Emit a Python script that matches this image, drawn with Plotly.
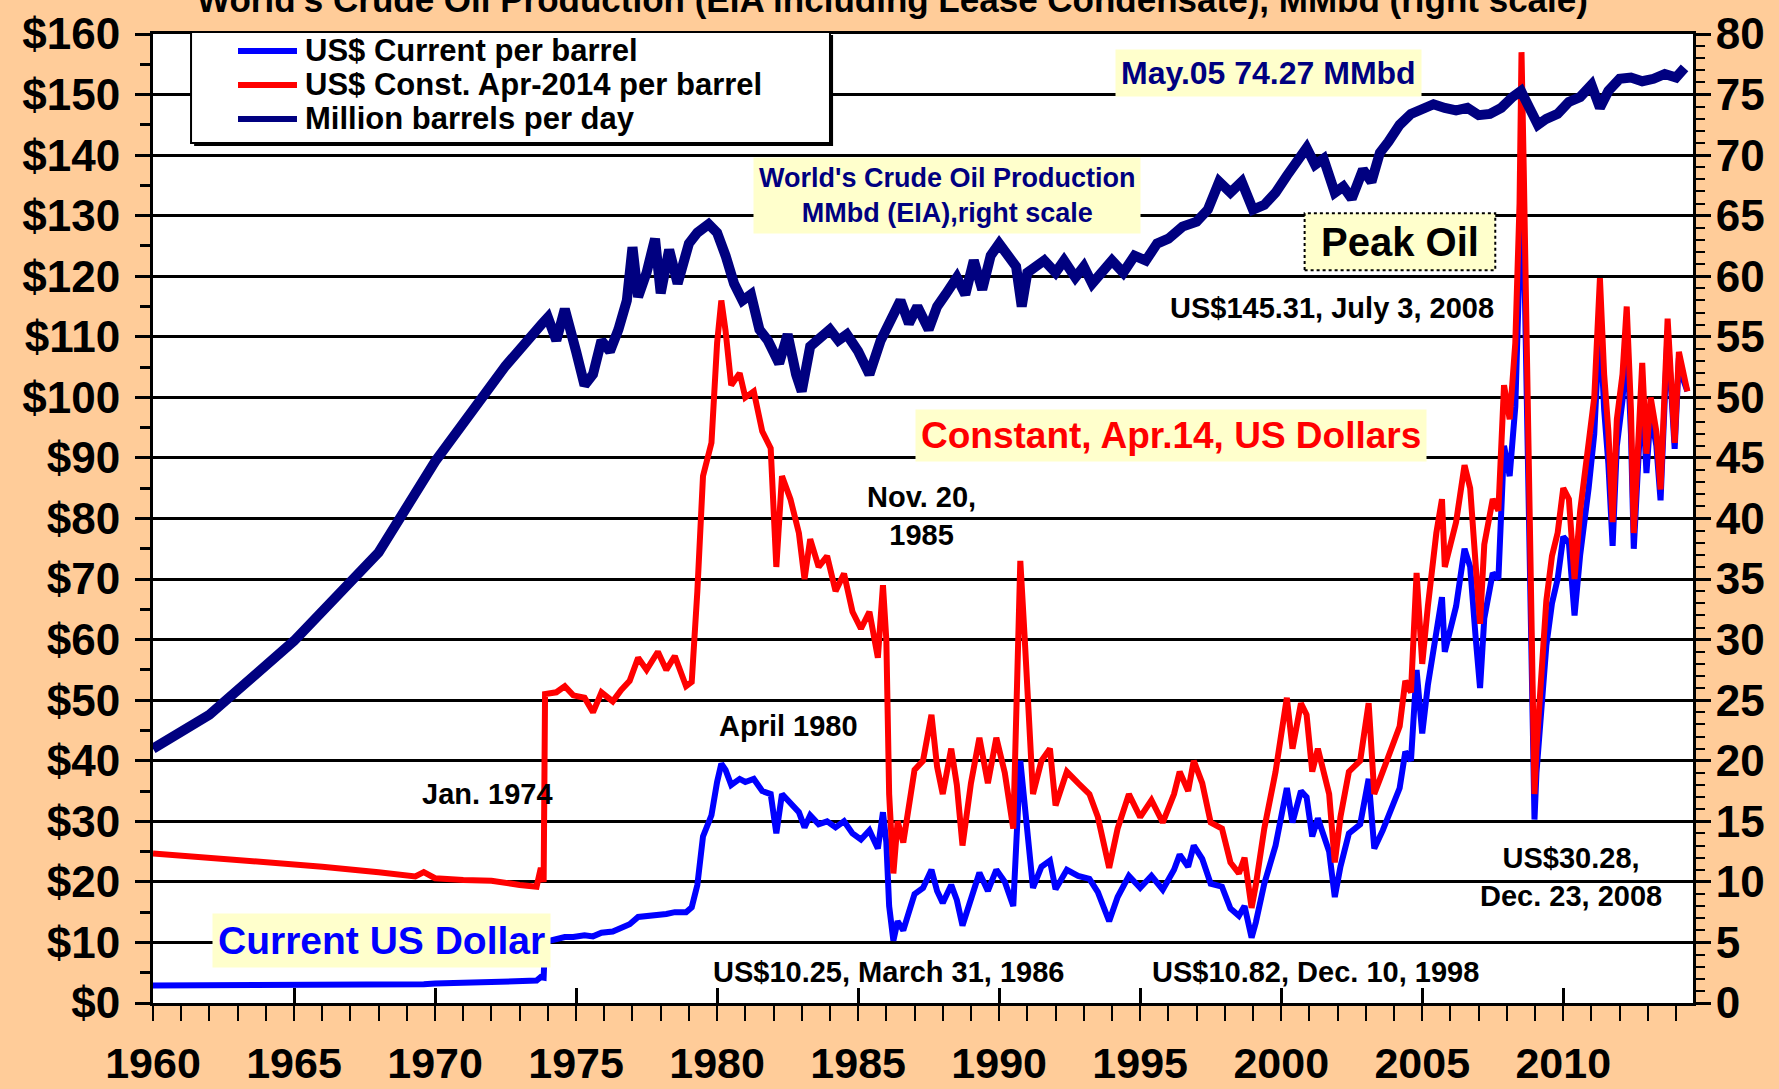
import plotly.graph_objects as go

# Oil price samples (decimal year)
PRICE_YEARS = [
    1960.0, 1962.0, 1964.0, 1966.0, 1968.0, 1969.3, 1969.6, 1970.0, 1971.0, 1972.0,
    1973.0, 1973.6, 1973.75, 1973.85, 1973.9, 1974.3, 1974.6, 1974.9, 1975.3, 1975.6,
    1975.9, 1976.3, 1976.6, 1976.9, 1977.2, 1977.5, 1977.9, 1978.2, 1978.5, 1978.9,
    1979.1, 1979.3, 1979.5, 1979.8, 1980.0, 1980.15, 1980.3, 1980.5, 1980.8, 1981.0,
    1981.3, 1981.6, 1981.9, 1982.1, 1982.3, 1982.6, 1982.9, 1983.1, 1983.3, 1983.6,
    1983.9, 1984.2, 1984.5, 1984.8, 1985.1, 1985.4, 1985.7, 1985.88, 1986.0, 1986.1,
    1986.25, 1986.4, 1986.6, 1986.8, 1987.0, 1987.3, 1987.6, 1987.8, 1988.0, 1988.3,
    1988.5, 1988.7, 1989.0, 1989.3, 1989.6, 1989.9, 1990.2, 1990.5, 1990.75, 1990.9,
    1991.1, 1991.2, 1991.5, 1991.8, 1992.0, 1992.4, 1992.8, 1993.2, 1993.5, 1993.9,
    1994.2, 1994.6, 1995.0, 1995.4, 1995.8, 1996.2, 1996.4, 1996.7, 1996.9, 1997.2,
    1997.5, 1997.9, 1998.2, 1998.5, 1998.7, 1998.95, 1999.1, 1999.4, 1999.8, 2000.0,
    2000.2, 2000.4, 2000.7, 2000.9, 2001.1, 2001.3, 2001.7, 2001.9, 2002.1, 2002.4,
    2002.8, 2003.1, 2003.3, 2003.6, 2003.9, 2004.2, 2004.4, 2004.6, 2004.8, 2005.0,
    2005.2, 2005.5, 2005.7, 2005.8, 2006.0, 2006.2, 2006.5, 2006.7, 2006.9, 2007.05,
    2007.2, 2007.5, 2007.7, 2007.9, 2008.1, 2008.3, 2008.45, 2008.52, 2008.6, 2008.7,
    2008.8, 2008.9, 2008.98, 2009.05, 2009.2, 2009.4, 2009.6, 2009.8, 2010.0, 2010.2,
    2010.4, 2010.6, 2010.9, 2011.1, 2011.3, 2011.45, 2011.6, 2011.75, 2011.9, 2012.1,
    2012.25, 2012.4, 2012.5, 2012.7, 2012.8, 2012.95, 2013.1, 2013.3, 2013.45, 2013.7,
    2013.85, 2013.95, 2014.1, 2014.25, 2014.4,
]
CONST_APR2014_USD = [
    24.7, 24.0, 23.3, 22.5, 21.6, 20.9, 21.6, 20.6, 20.3, 20.2,
    19.5, 19.2, 22.3, 20.0, 51.0, 51.3, 52.3, 50.8, 50.4, 48.0,
    51.3, 49.8, 51.7, 53.2, 57.0, 55.0, 58.0, 55.0, 57.3, 52.3,
    53.0, 68.0, 87.0, 92.5, 109.0, 116.0, 111.0, 102.0, 104.0, 100.0,
    101.0, 94.4, 91.6, 72.0, 87.0, 83.2, 77.6, 70.0, 76.6, 72.0,
    73.8, 68.0, 70.9, 64.6, 61.8, 64.6, 57.0, 69.0, 60.0, 34.5,
    21.4, 30.0, 26.5, 33.0, 38.5, 40.0, 47.6, 39.0, 34.5, 42.0,
    36.0, 26.0, 36.3, 43.8, 36.3, 43.8, 38.0, 28.8, 73.0, 60.7,
    43.8, 34.5, 40.0, 42.0, 32.6, 38.2, 36.3, 34.5, 30.7, 22.3,
    28.8, 34.5, 30.7, 33.5, 29.8, 34.5, 38.2, 35.0, 40.0, 36.3,
    29.8, 28.8, 23.2, 21.4, 24.0, 15.7, 19.5, 28.8, 38.2, 43.8,
    50.4, 42.0, 49.5, 47.6, 38.2, 42.0, 34.5, 23.2, 30.7, 38.2,
    40.0, 49.5, 34.5, 38.2, 42.0, 45.7, 53.2, 51.3, 71.0, 56.0,
    65.5, 77.6, 83.2, 72.0, 75.7, 79.4, 88.8, 85.0, 72.0, 62.6,
    75.7, 83.2, 81.3, 102.0, 96.4, 109.0, 132.0, 157.0, 137.5, 109.0,
    75.7, 53.2, 34.5, 42.0, 53.2, 66.4, 73.8, 77.6, 85.0, 83.2,
    70.0, 81.3, 92.5, 100.0, 119.7, 103.8, 94.4, 79.4, 96.4, 103.8,
    115.0, 98.0, 77.6, 96.4, 105.7, 90.7, 100.0, 94.4, 84.8, 113.0,
    98.0, 92.5, 107.5, 103.8, 101.0,
]
CURRENT_USD = [
    2.9, 2.9, 2.9, 2.9, 2.95, 3.0, 3.1, 3.2, 3.4, 3.5,
    3.6, 3.7, 4.3, 4.2, 10.1, 10.5, 10.9, 10.9, 11.2, 11.0,
    11.6, 11.8, 12.3, 13.0, 14.2, 14.3, 14.6, 14.7, 15.0, 15.0,
    15.8, 19.5, 27.5, 31.0, 36.5, 39.5, 38.5, 36.0, 37.0, 36.5,
    37.0, 35.0, 34.5, 28.0, 34.5, 33.0, 31.5, 29.0, 31.0, 29.5,
    30.0, 29.0, 30.0, 28.0, 27.0, 28.5, 25.5, 31.5, 26.5, 16.0,
    10.3, 13.5, 12.0, 15.0, 18.0, 19.0, 22.0, 18.5, 16.5, 19.5,
    17.0, 12.8, 17.5, 21.5, 18.5, 22.0, 20.0, 16.0, 40.0, 33.0,
    24.5, 19.0, 22.5, 23.5, 18.8, 22.0, 21.0, 20.5, 18.3, 13.5,
    17.5, 21.0, 19.0, 21.0, 18.7, 22.0, 24.5, 22.5, 26.0, 23.8,
    19.7, 19.2, 15.6, 14.4, 16.0, 10.8, 13.3, 19.7, 26.0, 30.5,
    35.5, 29.8, 35.0, 34.0, 27.5, 30.5, 25.0, 17.5, 22.5, 28.0,
    29.5, 37.0, 25.5, 28.5, 32.0, 35.5, 41.5, 40.0, 55.0, 44.5,
    52.5, 62.0, 67.0, 58.0, 62.0, 65.5, 75.0, 72.0, 60.0, 52.0,
    63.5, 71.0, 70.0, 92.0, 87.0, 98.5, 122.0, 145.3, 127.0, 100.0,
    68.0, 46.0, 30.3, 38.0, 47.0, 59.0, 66.0, 70.0, 77.0, 76.0,
    64.0, 74.0, 85.0, 94.0, 113.0, 98.0, 89.0, 75.5, 92.0, 99.5,
    110.0, 94.0, 75.0, 93.0, 102.0, 87.5, 97.5, 92.0, 83.0, 111.0,
    96.5, 91.5, 106.5, 103.0, 101.0,
]

# World crude oil production, million barrels per day (right scale)
PROD_YEARS = [
    1960.0, 1962.0, 1965.0, 1968.0, 1970.0, 1972.5, 1973.8, 1974.0, 1974.3, 1974.6,
    1975.0, 1975.3, 1975.6, 1975.9, 1976.2, 1976.5, 1976.8, 1977.0, 1977.2, 1977.5,
    1977.8, 1978.0, 1978.3, 1978.6, 1979.0, 1979.3, 1979.7, 1980.0, 1980.3, 1980.6,
    1980.9, 1981.2, 1981.5, 1981.8, 1982.2, 1982.5, 1982.8, 1983.0, 1983.3, 1983.6,
    1984.0, 1984.3, 1984.6, 1985.0, 1985.4, 1985.8, 1986.2, 1986.5, 1986.8, 1987.1,
    1987.5, 1987.8, 1988.1, 1988.5, 1988.8, 1989.1, 1989.4, 1989.7, 1990.0, 1990.3,
    1990.6, 1990.8, 1991.0, 1991.3, 1991.6, 1992.0, 1992.3, 1992.7, 1993.0, 1993.3,
    1993.6, 1994.0, 1994.4, 1994.8, 1995.2, 1995.6, 1996.0, 1996.5, 1997.0, 1997.4,
    1997.8, 1998.2, 1998.6, 1999.0, 1999.4, 1999.8, 2000.2, 2000.6, 2000.9, 2001.2,
    2001.5, 2001.9, 2002.2, 2002.5, 2002.9, 2003.2, 2003.5, 2003.8, 2004.2, 2004.6,
    2005.0, 2005.4, 2005.8, 2006.2, 2006.6, 2007.0, 2007.4, 2007.8, 2008.2, 2008.5,
    2008.8, 2009.1, 2009.4, 2009.8, 2010.2, 2010.6, 2011.0, 2011.3, 2011.6, 2012.0,
    2012.4, 2012.8, 2013.2, 2013.6, 2014.0, 2014.3,
]
PROD_MMBD = [
    21.0, 23.8, 29.9, 37.2, 44.7, 52.6, 56.1, 56.6, 54.7, 57.3,
    53.8, 51.0, 51.9, 54.7, 53.8, 55.6, 58.0, 62.4, 58.3, 60.3,
    63.1, 58.6, 62.2, 59.4, 62.7, 63.6, 64.3, 63.6, 61.7, 59.4,
    58.0, 58.5, 55.6, 54.7, 52.8, 55.2, 51.9, 50.5, 54.2, 54.7,
    55.6, 54.7, 55.2, 53.8, 51.9, 54.7, 56.6, 58.0, 56.1, 57.5,
    55.6, 57.5, 58.5, 59.9, 58.5, 61.3, 58.9, 61.7, 62.7, 61.7,
    60.8, 57.5, 60.3, 60.8, 61.3, 60.3, 61.3, 59.9, 60.8, 59.4,
    60.3, 61.3, 60.3, 61.7, 61.3, 62.7, 63.1, 64.1, 64.5, 65.5,
    67.8, 66.9, 67.8, 65.5, 65.9, 66.9, 68.3, 69.7, 70.6, 69.2,
    69.7, 66.9, 67.4, 66.4, 68.8, 67.8, 70.2, 71.1, 72.5, 73.4,
    73.9, 74.2, 73.9, 73.7, 73.9, 73.3, 73.4, 73.9, 74.8, 75.3,
    73.9, 72.5, 73.0, 73.4, 74.4, 74.8, 75.8, 73.9, 75.3, 76.3,
    76.4, 76.1, 76.3, 76.7, 76.4, 77.2,
]

YEAR_TICKS = list(range(1960, 2015))
YEAR_LABELS = [str(y) if y % 5 == 0 else "" for y in YEAR_TICKS]
PRICE_TICKS = list(range(0, 170, 10))
PRICE_LABELS = ["$" + str(v) for v in PRICE_TICKS]

LEGEND_NAMES = ["US$ Current per barrel", "US$ Const. Apr-2014 per barrel",
                "Million barrels per day"]
LEGEND_COLORS = ["#0000FF", "#FF0000", "#000080"]

FONT = "Liberation Sans"
BOLD = dict(family=FONT, weight="bold", color="black")
NAVY, RED, BLUE, CREAM = "#000080", "#FF0000", "#0000FF", "#FFFFCC"

fig = go.Figure()

fig.add_trace(go.Scatter(
    x=PROD_YEARS, y=PROD_MMBD, name=LEGEND_NAMES[2],
    mode="lines", line=dict(color=NAVY, width=10),
    xaxis="x2", yaxis="y2"))
fig.add_trace(go.Scatter(
    x=PRICE_YEARS, y=CURRENT_USD, name=LEGEND_NAMES[0],
    mode="lines", line=dict(color=BLUE, width=6)))
fig.add_trace(go.Scatter(
    x=PRICE_YEARS, y=CONST_APR2014_USD, name=LEGEND_NAMES[1],
    mode="lines", line=dict(color=RED, width=6)))

# legend box drawn by hand (tight line spacing like the original)
fig.add_shape(type="rect", xref="paper", yref="paper",
              x0=0.0267, x1=0.4416, y0=0.8844, y1=0.9990,
              fillcolor="black", line=dict(width=0), layer="above")
fig.add_shape(type="rect", xref="paper", yref="paper",
              x0=0.0247, x1=0.4396, y0=0.8875, y1=1.0021,
              fillcolor="white", line=dict(color="black", width=2), layer="above")
for i, (name, col) in enumerate(zip(LEGEND_NAMES, LEGEND_COLORS)):
    yy = 0.9825 - i * 0.0351
    fig.add_shape(type="line", xref="paper", yref="paper",
                  x0=0.0552, x1=0.0935, y0=yy, y1=yy,
                  line=dict(color=col, width=6), layer="above")
    fig.add_annotation(xref="paper", yref="paper", x=0.0975, y=yy,
                       xanchor="left", yanchor="middle", text=name,
                       showarrow=False, font=dict(BOLD, size=31))

ann_small = dict(family=FONT, weight="bold", size=29, color="black")
notes = [
    (1986.07, 5.06, "US$10.25, March 31, 1986"),
    (2001.23, 5.06, "US$10.82, Dec. 10, 1998"),
    (1971.87, 34.5, "Jan. 1974"),
    (1982.53, 45.7, "April 1980"),
    (1987.23, 80.4, "Nov. 20,<br>1985"),
    (2001.8, 114.7, "US$145.31, July 3, 2008"),
    (2010.28, 20.8, "US$30.28,<br>Dec. 23, 2008"),
]
for x, y, t in notes:
    fig.add_annotation(x=x, y=y, text=t, showarrow=False, font=ann_small)

boxed = [
    (1999.54, 153.6, "May.05 74.27 MMbd", NAVY, 32),
    (1988.16, 133.4, "World's Crude Oil Production<br>MMbd (EIA),right scale", NAVY, 27),
    (1996.08, 93.7, "Constant, Apr.14, US Dollars", RED, 37),
    (1968.09, 10.3, "Current US Dollar", BLUE, 39),
]
for x, y, t, c, s in boxed:
    fig.add_annotation(x=x, y=y, text=t, showarrow=False, bgcolor=CREAM,
                       borderpad=5,
                       font=dict(family=FONT, weight="bold", size=s, color=c))

fig.add_shape(type="rect", x0=2000.83, x1=2007.59, y0=121.0, y1=130.4,
              fillcolor=CREAM, line=dict(color="black", width=2, dash="dot"),
              layer="above")
fig.add_annotation(x=2004.2, y=125.7, text="Peak Oil", showarrow=False,
                   font=dict(BOLD, size=40))

# title sits partly above the top edge, as in the original
fig.add_annotation(
    xref="paper", yref="paper", x=0.4805, y=1.0134, yanchor="bottom",
    text="World's Crude Oil Production (EIA including Lease Condensate), MMbd (right scale)",
    showarrow=False, font=dict(BOLD, size=35))

fig.update_layout(
    width=1779, height=1089,
    margin=dict(l=153, r=86, t=34, b=86),
    paper_bgcolor="#FFCC99", plot_bgcolor="white",
    showlegend=False,
    xaxis=dict(range=[1960, 2014.6], tickvals=YEAR_TICKS, ticktext=YEAR_LABELS,
               ticks="outside", ticklen=15, tickwidth=2, tickcolor="black",
               ticklabelstandoff=5, showgrid=False, zeroline=False,
               showline=True, linecolor="black", linewidth=3, mirror=True,
               automargin=False, tickfont=dict(BOLD, size=43)),
    xaxis2=dict(overlaying="x", matches="x", anchor="y", range=[1960, 2014.6],
                tick0=1960, dtick=5, ticks="inside", ticklen=15, tickwidth=3,
                tickcolor="black", showticklabels=False, showgrid=False,
                zeroline=False, showline=False, automargin=False),
    yaxis=dict(range=[0, 160], tickvals=PRICE_TICKS, ticktext=PRICE_LABELS,
               ticks="outside", ticklen=15, tickwidth=3, tickcolor="black",
               minor=dict(dtick=5, ticks="outside", ticklen=10, tickwidth=3,
                          tickcolor="black"),
               ticklabelstandoff=6, automargin=False,
               showgrid=True, gridcolor="black", gridwidth=3, zeroline=False,
               showline=True, linecolor="black", linewidth=3,
               tickfont=dict(BOLD, size=44)),
    yaxis2=dict(range=[0, 80], overlaying="y", side="right", anchor="x",
                dtick=5, ticks="outside", ticklen=15, tickwidth=3,
                tickcolor="black",
                minor=dict(dtick=1, ticks="outside", ticklen=9, tickwidth=2,
                           tickcolor="black"),
                ticklabelstandoff=-4, automargin=False,
                showgrid=False, zeroline=False,
                showline=True, linecolor="black", linewidth=3,
                tickfont=dict(BOLD, size=44)),
)

# drop the default 8px page margin so the figure fills the window
fig.write_html("out.html", config={"displayModeBar": False},
               post_script="document.body.style.margin='0';"
                           "document.body.style.background='#FFCC99';")
